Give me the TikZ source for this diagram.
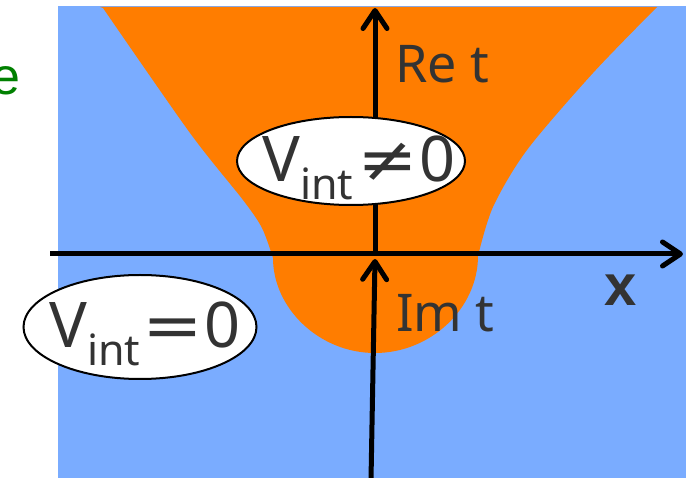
\documentclass[tikz,border=0pt]{standalone}
\usepackage{fontspec}
\setmainfont{Noto Sans}
\newfontfamily\arialfont{Liberation Sans}
\newfontfamily\symfont{DejaVu Sans}
\usetikzlibrary{arrows.meta,shapes.geometric}
\definecolor{bgblue}{RGB}{122,172,255}
\definecolor{regorange}{RGB}{255,125,0}
\definecolor{txtgray}{RGB}{51,51,51}
\definecolor{lblgreen}{RGB}{0,128,0}
\tikzset{
  axis/.style={line width=5pt, -{Straight Barb[length=18pt,width=24pt,round]}},
  region/.style={ellipse, draw=black, line width=2pt, fill=white, inner sep=0pt},
  regtext/.style={text=txtgray, inner sep=0pt, anchor=base west},
  axlabel/.style={text=txtgray, inner sep=0pt, font=\fontsize{52}{52}\selectfont},
}
\newcommand{\vbig}{\fontsize{63}{63}\selectfont}
\newcommand{\vsub}[1]{\raisebox{-18pt}{\fontsize{43}{43}\selectfont #1}}
\newcommand{\wsym}[1]{{\symfont\scalebox{1.15}[1]{#1}}}
\begin{document}
\begin{tikzpicture}[x=1pt,y=-1pt]
\useasboundingbox (0,0) rectangle (686,478);
% background
\fill[bgblue] (58,6) rectangle (686,478);
% orange region
\fill[regorange] (100,7) -- (657,7)
  -- plot[smooth, tension=0.5] coordinates {(657,7) (593,73) (527,150) (493,207) (478,256)}
  .. controls (478,308) and (431,353) .. (375,353)
  .. controls (319,353) and (273,308) .. (273,258)
  -- plot[smooth, tension=0.5] coordinates {(273,258) (262,228) (243,200) (190,133) (103,8)}
  -- cycle;
% axes
\coordinate (xl) at (50,254);
\coordinate (xr) at (683,254);
\coordinate (o) at (375,254);
\coordinate (ttop) at (375,8);
\coordinate (bbot) at (371,480);
\coordinate (btip) at (375,259);
\draw[axis] (xl) -- (xr);
\draw[axis] (o) -- (ttop);
\draw[axis] (bbot) -- (btip);
% region labels
\node[region, minimum width=228pt, minimum height=88pt] (vne) at (351,161) {};
\node[regtext] (vnetext) at (262,182) {\vbig V\vsub{int}\kern4pt\wsym{≠}\kern2pt0};
\node[region, minimum width=233pt, minimum height=104pt] (veq) at (140,327) {};
\node[regtext] (veqtext) at (49,348) {\vbig V\vsub{int}\kern2pt\wsym{=}\kern2pt0};
% axis labels
\node[axlabel, anchor=base west] (ret) at (395,83) {Re t};
\node[axlabel, anchor=base west] (imt) at (396,332) {Im t};
\node[text=txtgray, inner sep=0pt, font=\arialfont\bfseries\fontsize{58}{58}\selectfont] (xlab) at (621,290) {x};
\node[text=lblgreen, inner sep=0pt, anchor=base west, font=\arialfont\fontsize{52}{52}\selectfont] (elab) at (-9,95) {e};
\end{tikzpicture}
\end{document}
